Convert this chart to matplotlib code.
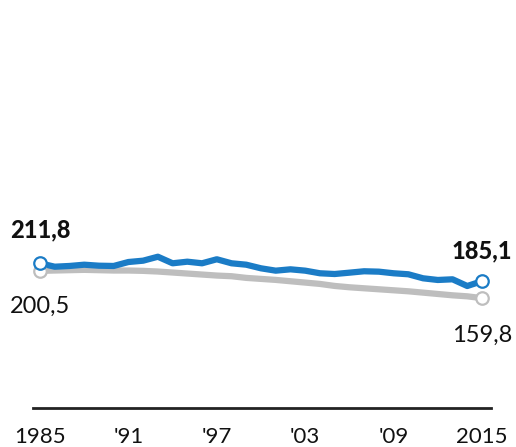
import numpy as np
import matplotlib
matplotlib.use("Agg")
import matplotlib.pyplot as plt

plt.rcParams['font.family'] = ['Lato', 'DejaVu Sans']

years = list(range(1985, 2016))
blue = [211.8, 206.7, 207.8, 209.7, 208.2, 207.8, 213.7, 215.7, 221.6, 211.8,
        214.2, 211.8, 217.8, 211.8, 209.7, 204.3, 200.8, 202.8, 200.8, 196.9,
        195.8, 197.8, 199.9, 199.3, 196.9, 195.4, 189.4, 186.9, 187.9, 177.9,
        185.1]
gray = [200.5, 201.0, 201.5, 202.0, 201.5, 201.0, 201.0, 200.5, 199.5, 198.0,
        196.5, 195.0, 193.5, 192.5, 190.0, 188.5, 187.0, 185.0, 183.0, 181.0,
        178.0, 176.0, 174.5, 173.0, 171.5, 170.0, 168.0, 166.0, 164.0, 162.5,
        159.8]
tick_years = [1985, 1991, 1997, 2003, 2009, 2015]
tick_labels = ['1985', "'91", "'97", "'03", "'09", '2015']

blue_c = '#1b7cc6'
gray_c = '#bebebe'

fig = plt.figure(figsize=(5.16, 4.47), dpi=100)
ax = fig.add_axes([33/516, 39/447, 458/516, 408/447])

ax.plot(years, gray, color=gray_c, lw=4.5, solid_capstyle='round', zorder=2)
ax.plot(years, blue, color=blue_c, lw=4.5, solid_capstyle='round', zorder=3)
for s, c in [(gray, gray_c), (blue, blue_c)]:
    ax.plot([years[0], years[-1]], [s[0], s[-1]], 'o', ms=9, mfc='white',
            mec=c, mew=1.6, zorder=4)

ax.set_xlim(1984.525, 2015.611)
ax.set_ylim(-4.2, 604.8)

for sp in ['top', 'left', 'right']:
    ax.spines[sp].set_visible(False)
ax.spines['bottom'].set_linewidth(2)
ax.spines['bottom'].set_color('#222222')
ax.set_yticks([])
ax.set_xticks(tick_years)
ax.set_xticklabels(tick_labels, fontsize=16, color='#111111')
ax.tick_params(axis='x', length=0, pad=14)

def fmt(v):
    return f"{v:.1f}".replace('.', ',')

ax.annotate(fmt(blue[0]), (years[0], blue[0]), xytext=(0, 33),
            textcoords='offset pixels', ha='center', va='center',
            fontsize=17, fontweight='black', color='#111111')
ax.annotate(fmt(gray[0]), (years[0], gray[0]), xytext=(0, -35),
            textcoords='offset pixels', ha='center', va='center',
            fontsize=17, color='#111111')
ax.annotate(fmt(blue[-1]), (years[-1], blue[-1]), xytext=(0, 30),
            textcoords='offset pixels', ha='center', va='center',
            fontsize=17, fontweight='black', color='#111111')
ax.annotate(fmt(gray[-1]), (years[-1], gray[-1]), xytext=(0, -37),
            textcoords='offset pixels', ha='center', va='center',
            fontsize=17, color='#111111')

fig.savefig('out.png', dpi=100)
